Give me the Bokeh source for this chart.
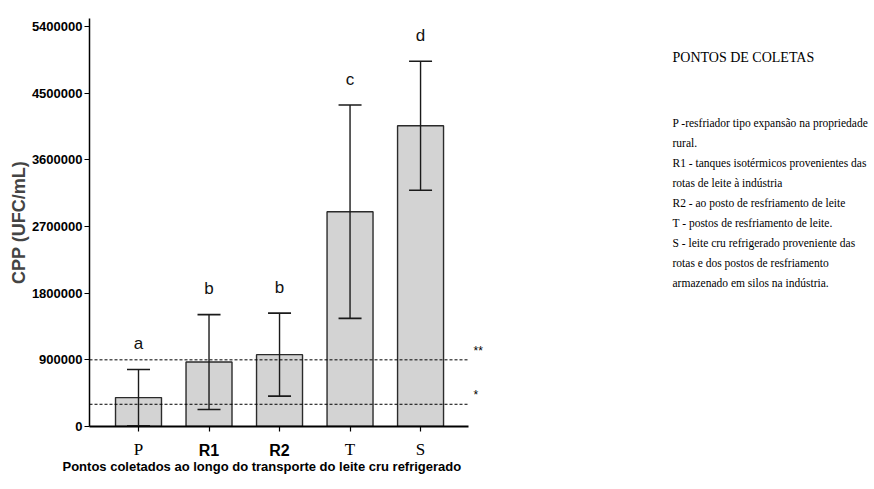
from bokeh.plotting import figure
from bokeh.models import (ColumnDataSource, Whisker, TeeHead, Range1d, FixedTicker, Span,
                          LinearAxis, Title)
from bokeh.layouts import row
from bokeh.embed import file_html
from bokeh.resources import INLINE
from bokeh.core.properties import value

# ---- data ----
categories = ["P", "R1", "R2", "T", "S"]
means = [390000, 870000, 970000, 2900000, 4060000]
sds = [380000, 640000, 560000, 1440000, 870000]
letters = ["a", "b", "b", "c", "d"]
y_ticks = [0, 900000, 1800000, 2700000, 3600000, 4500000, 5400000]
limits = [900000, 300000]
limit_marks = ["**", "*"]
legend_title = "PONTOS DE COLETAS"
legend_lines = [
    "P -resfriador tipo expansão na propriedade",
    "rural.",
    "R1 - tanques isotérmicos provenientes das",
    "rotas de leite à indústria",
    "R2 - ao posto de resfriamento de leite",
    "T - postos de resfriamento de leite.",
    "S - leite cru refrigerado proveniente das",
    "rotas e dos postos de resfriamento",
    "armazenado em silos na indústria.",
]
x_title = "Pontos coletados ao longo do transporte do leite cru refrigerado"
y_title = "CPP (UFC/mL)"
serif_labels = ["P", "T", "S"]

# ---- layout (page pixels) ----
X0, X1 = -0.695, 4.68
Y0, Y1 = 0, 5508000
FL, FR, FT, FB = 89, 468, 18, 426
uy = (Y1 - Y0) / (FB - FT)
W_LEFT, W_RIGHT, H = 470, 400, 485


def Y(py):
    return (FB - py) * uy


SANS = "Liberation Sans"
SERIF = "Liberation Serif"

xs = list(range(len(categories)))
upper = [m + s for m, s in zip(means, sds)]
lower = [max(m - s, 0) for m, s in zip(means, sds)]
src = ColumnDataSource(dict(x=xs, cat=categories, top=means, upper=upper, lower=lower, letter=letters))

# ---------------- main chart ----------------
p = figure(width=W_LEFT, height=H, output_backend="svg", toolbar_location=None,
           x_range=Range1d(X0, X1), y_range=Range1d(Y0, Y1),
           min_border_left=FL, min_border_right=W_LEFT - FR, min_border_top=FT,
           min_border_bottom=H - FB)
p.outline_line_color = None
p.grid.visible = False

p.vbar(x="x", top="top", width=0.652, bottom=0, source=src,
       fill_color="#d3d3d3", line_color="#2b2b2b", line_width=1.4)

w = Whisker(source=src, base="x", upper="upper", lower="lower", line_width=1.4, line_color="#1a1a1a",
            upper_head=TeeHead(size=23, line_width=1.6, line_color="#1a1a1a"),
            lower_head=TeeHead(size=23, line_width=1.6, line_color="#1a1a1a"), level="overlay")
p.add_layout(w)

for lim in limits:
    p.add_layout(Span(location=lim, dimension="width", line_color="black", line_width=1,
                      line_dash="3 2", level="overlay"))

p.text(x="x", y="upper", text="letter", source=src, text_align="center", text_baseline="middle",
       y_offset=-26, text_font=value(SANS), text_font_size="17px", text_color="#111111")

p.yaxis.ticker = FixedTicker(ticks=y_ticks)
p.yaxis.formatter.use_scientific = False
p.yaxis.major_label_text_font = SANS
p.yaxis.major_label_text_font_style = "bold"
p.yaxis.major_label_text_font_size = "13px"
p.yaxis.major_label_text_color = "black"
p.yaxis.major_label_standoff = 2
p.yaxis.major_tick_out = 5
p.yaxis.major_tick_in = 0
p.yaxis.minor_tick_line_color = None
p.yaxis.axis_line_width = 1.5
p.yaxis.major_tick_line_width = 1.2
p.yaxis.axis_label = y_title
p.yaxis.axis_label_text_font = SANS
p.yaxis.axis_label_text_font_style = "bold"
p.yaxis.axis_label_text_font_size = "18px"
p.yaxis.axis_label_standoff = 0

# first x axis: line, ticks and serif labels
p.xaxis.ticker = FixedTicker(ticks=xs)
p.xaxis.major_label_overrides = {i: (c if c in serif_labels else " ") for i, c in zip(xs, categories)}
p.xaxis.major_label_text_font = SERIF
p.xaxis.major_label_text_font_size = "17px"
p.xaxis.major_label_text_color = "black"
p.xaxis.major_label_standoff = 8
p.xaxis.major_tick_out = 5
p.xaxis.major_tick_in = 0
p.xaxis.minor_tick_line_color = None
p.xaxis.axis_line_width = 2
p.xaxis.major_tick_line_width = 1.2

# second x axis: bold sans labels R1, R2 pulled up to the same row
xaxis2 = LinearAxis(ticker=FixedTicker(ticks=xs),
                    major_label_overrides={i: (c if c not in serif_labels else " ")
                                           for i, c in zip(xs, categories)},
                    axis_line_color=None, major_tick_line_color=None, minor_tick_line_color=None,
                    major_tick_out=0, major_tick_in=0, major_label_standoff=-20,
                    major_label_text_font=SANS, major_label_text_font_style="bold",
                    major_label_text_font_size="16px", major_label_text_color="black")
p.add_layout(xaxis2, "below")

p.add_layout(Title(text=x_title, align="left", offset=-27, text_font=SANS, text_font_style="bold",
                   text_font_size="13px", text_color="black", standoff=-10), "below")

# ---------------- right: limit marks + legend ----------------
RX0 = W_LEFT
pr = figure(width=W_RIGHT, height=H, output_backend="svg", toolbar_location=None,
            x_range=Range1d(RX0, RX0 + W_RIGHT), y_range=p.y_range,
            min_border_left=0, min_border_right=0, min_border_top=FT, min_border_bottom=H - FB)
pr.axis.visible = False
pr.grid.visible = False
pr.outline_line_color = None
pr.text(x=[473] * len(limits), y=[lim + 9 * uy for lim in limits], text=limit_marks,
        text_align="left", text_baseline="middle", text_font=value(SANS),
        text_font_size="12px", text_color="black")
pr.text(x=[672], y=[Y(57)], text=[legend_title], text_align="left", text_baseline="middle",
        text_font=value(SERIF), text_font_size="14px", text_color="black")
pr.text(x=[672] * len(legend_lines), y=[Y(122 + 20 * k) for k in range(len(legend_lines))],
        text=legend_lines, text_align="left", text_baseline="middle", text_font=value(SERIF),
        text_font_size="11.5px", text_color="black")

layout = row(p, pr)
open("out.html", "w").write(file_html(layout, INLINE))
